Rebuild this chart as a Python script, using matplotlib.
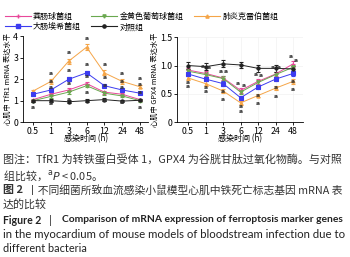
import matplotlib
matplotlib.use("Agg")
import matplotlib.pyplot as plt
from matplotlib.lines import Line2D

plt.rcParams['font.family'] = ['Noto Sans CJK SC', 'DejaVu Sans']
plt.rcParams['mathtext.fontset'] = 'dejavusans'

# ====== Data ======
times = ["0.5", "1", "3", "6", "12", "24", "48"]

groups = ["粪肠球菌组", "金黄色葡萄球菌组", "肺炎克雷伯菌组", "大肠埃希菌组", "对照组"]
colors = ["#e8489a", "#6aa84f", "#f5a548", "#3c3cf0", "#222222"]
markers = ["+", "v", "^", "s", "o"]

tfr1 = [
    [1.05, 1.30, 1.50, 1.80, 1.40, 1.30, 1.05],   # 粪肠球菌
    [1.00, 1.20, 1.40, 1.70, 1.35, 1.22, 1.00],   # 金黄色葡萄球菌
    [1.45, 1.90, 2.85, 3.50, 2.30, 1.90, 1.65],   # 肺炎克雷伯菌
    [1.30, 1.50, 2.00, 2.30, 1.70, 1.50, 1.35],   # 大肠埃希菌
    [1.00, 1.00, 0.95, 1.00, 1.05, 0.98, 1.02],   # 对照
]
tfr1_err = [
    [0.05, 0.06, 0.07, 0.08, 0.07, 0.06, 0.05],
    [0.05, 0.06, 0.07, 0.08, 0.07, 0.06, 0.05],
    [0.06, 0.10, 0.12, 0.15, 0.12, 0.10, 0.08],
    [0.06, 0.08, 0.10, 0.10, 0.08, 0.07, 0.06],
    [0.05, 0.06, 0.06, 0.06, 0.06, 0.06, 0.05],
]

gpx4 = [
    [0.92, 0.86, 0.78, 0.56, 0.72, 0.85, 1.03],
    [0.90, 0.84, 0.77, 0.53, 0.70, 0.84, 0.97],
    [0.78, 0.68, 0.55, 0.34, 0.47, 0.60, 0.72],
    [0.85, 0.76, 0.68, 0.43, 0.62, 0.76, 0.86],
    [1.00, 0.98, 1.03, 1.01, 0.95, 0.95, 0.94],
]
gpx4_err = [
    [0.04, 0.04, 0.04, 0.04, 0.04, 0.04, 0.05],
    [0.04, 0.04, 0.04, 0.04, 0.04, 0.04, 0.04],
    [0.03, 0.04, 0.04, 0.03, 0.03, 0.04, 0.04],
    [0.03, 0.04, 0.04, 0.03, 0.04, 0.04, 0.04],
    [0.06, 0.06, 0.06, 0.05, 0.06, 0.06, 0.06],
]

# ====== Plot ======
fig = plt.figure(figsize=(3.5, 2.57), dpi=100)
ax1 = fig.add_axes([0.066, 0.525, 0.357, 0.333])
ax2 = fig.add_axes([0.506, 0.525, 0.36, 0.330])

xs = range(len(times))


def draw(ax, data, errs, label_off):
    for i in range(len(groups)):
        ax.errorbar(xs, data[i], yerr=errs[i], color=colors[i], marker=markers[i],
                    ms=2.3, mew=0.8, lw=0.7, elinewidth=0.6, capsize=1.5, capthick=0.6)
        if i == 4:
            continue
        for j, v in enumerate(data[i]):
            if j == 0 and label_off[i][1] > 0:
                continue
            ax.annotate("a", (j, v), xytext=label_off[i], textcoords="offset points",
                        ha="center", va="center", fontsize=4.3, color="#333333",
                        fontweight="bold", family="DejaVu Sans")
    ax.set_xticks(list(xs))
    ax.set_xticklabels(times)
    ax.tick_params(labelsize=6.3, length=2, width=0.6, pad=1.5)
    for s in ["top", "right"]:
        ax.spines[s].set_visible(False)
    for s in ["left", "bottom"]:
        ax.spines[s].set_linewidth(0.6)
    ax.set_xlabel("感染时间 (h)", fontsize=5.8, labelpad=-1)


draw(ax1, tfr1, tfr1_err, [(0, 5), (0, -5), (0, 6), (0, 6)])
ax1.set_xlim(-0.56, 6.45)
ax1.set_ylim(0, 4)
ax1.set_yticks([0, 1, 2, 3, 4])
ax1.set_ylabel("心肌中 TfR1 mRNA 表达水平", fontsize=5.2, labelpad=1)

draw(ax2, gpx4, gpx4_err, [(-2, 5), (2, 5), (0, -6), (0, -6)])
ax2.set_xlim(-0.63, 6.57)
ax2.set_ylim(0, 1.5)
ax2.set_yticks([0, 0.5, 1.0, 1.5])
ax2.set_yticklabels(["0", "0.5", "1.0", "1.5"])
ax2.grid(True, color="#f2f2f2", lw=0.5)
ax2.set_axisbelow(True)
ax2.set_ylabel("心肌中 GPX4 mRNA 表达水平", fontsize=5.2, labelpad=1)

# legend: row1 = 粪肠/金黄/肺炎, row2 = 大肠/对照
handles = [Line2D([], [], color=c, marker=m, ms=2.3, lw=0.8) for c, m in zip(colors, markers)]
order = [0, 3, 1, 4, 2]
fig.legend([handles[k] for k in order], [groups[k] for k in order], ncol=3,
           loc="upper left", bbox_to_anchor=(0.0, 0.972), frameon=False, fontsize=5.8,
           handlelength=3.2, handletextpad=0.3, columnspacing=1.3, labelspacing=0.15,
           borderaxespad=0.2)

# ====== Caption ======
renderer = fig.canvas.get_renderer()


def ypix(p):
    return 1 - p / 257


def fit_text(x0, x1, y, s, size=8, **kw):
    # caption lines are justified in the reference: scale font so text spans x0..x1
    t = fig.text(x0 / 350, ypix(y), s, fontsize=size, va="center", **kw)
    for _ in range(3):
        w = t.get_window_extent(renderer).width
        t.set_fontsize(t.get_fontsize() * (x1 - x0) / w)
    return t


cap = dict(color="#333333")
t1 = fit_text(3, 342, 160, "图注：TfR1 为转铁蛋白受体 1，GPX4 为谷胱甘肽过氧化物酶。与对照", **cap)
fs = t1.get_fontsize()
fig.text(3 / 350, ypix(175.7), "组比较，$^{\\mathrm{a}}\\mathit{P}$ < 0.05。", fontsize=fs,
         va="center", **cap)
fig.text(3 / 350, ypix(190), "图 2", fontsize=fs, va="center", fontweight="bold", **cap)
fit_text(27, 343, 190, "丨不同细菌所致血流感染小鼠模型心肌中铁死亡标志基因 mRNA 表", **cap)
fig.text(3 / 350, ypix(204.3), "达的比较", fontsize=fs, va="center", **cap)

eng = dict(family="Lato", color="#222222")
fig.text(3 / 350, ypix(220), "Figure 2", fontsize=7.6, va="center", fontweight="bold", **eng)
fig.text(49 / 350, ypix(220), "|", fontsize=7.6, va="center", **eng)
fit_text(62, 343, 220, "Comparison of mRNA expression of ferroptosis marker genes",
         fontweight="bold", **eng)
t6 = fit_text(3, 343, 234.3, "in the myocardium of mouse models of bloodstream infection due to", **eng)
fig.text(3 / 350, ypix(248.3), "different bacteria", fontsize=min(t6.get_fontsize(), 7.8),
         va="center", **eng)

fig.savefig("out.png", dpi=100)
